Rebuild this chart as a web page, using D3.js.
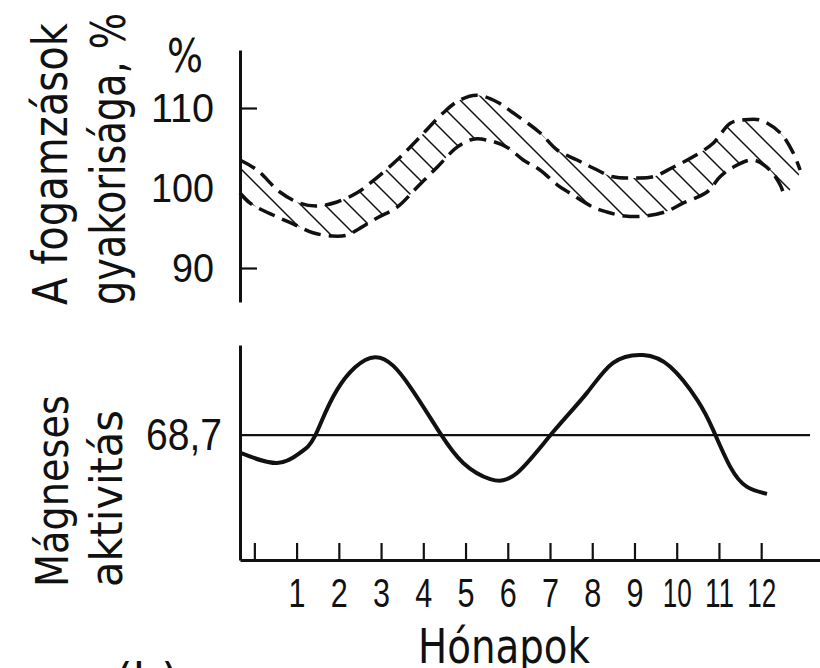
<!DOCTYPE html>
<html>
<head>
<meta charset="utf-8">
<script src="https://cdn.jsdelivr.net/npm/d3@7"></script>
<style>
  body { margin: 0; background: #fff; }
  svg { display: block; font-family: "DejaVu Sans", sans-serif; }
  text { fill: #111; }
</style>
</head>
<body>
<svg id="chart" width="820" height="668"></svg>
<script>
// Months on the shared horizontal axis
const months = d3.range(0, 13);

// Upper and lower edge of the conception frequency band (%)
const upperMonth = [-0.34, 0.063, 0.604, 1.078, 1.484, 1.958, 2.432, 2.741, 3.379, 3.853, 4.472, 4.868, 5.274, 5.748, 6.125, 6.763, 7.169, 7.643, 8.02, 8.494, 8.967, 9.441, 9.915, 10.388, 10.862, 11.268, 11.568, 11.974, 12.448, 12.757, 12.922];
const upperValue = [103.5, 102.25, 99.5, 98.1, 97.75, 98.25, 99.4, 100.6, 103.5, 106, 109.4, 111, 111.6, 110.75, 109.4, 106.9, 104.75, 103.5, 102.5, 101.4, 101.25, 101.4, 102.6, 103.9, 105.6, 108.1, 108.5, 108.5, 106.9, 104.4, 102.25];
const lowerMonth = [-0.34, -0.101, 0.537, 0.962, 1.387, 1.842, 2.19, 2.432, 2.905, 3.379, 3.853, 4.327, 4.8, 5.177, 5.583, 5.98, 6.367, 6.763, 7.169, 7.43, 8.02, 8.348, 8.774, 9.248, 9.721, 10.147, 10.717, 11.026, 11.336, 11.81, 12.206, 12.448, 12.544];
const lowerValue = [99.4, 98.1, 96.4, 95.4, 94.4, 94.0, 94.1, 94.75, 96.25, 97.6, 100.1, 102.6, 105.1, 106.1, 105.9, 105.1, 103.5, 102.25, 100.4, 99.5, 97.6, 97.0, 96.5, 96.5, 97.0, 98.1, 99.5, 101.4, 102.6, 103.5, 102.25, 100.4, 99.1];
const freqTicks = [90, 100, 110];

// Magnetic activity curve and its mean
const magMonth = [-0.33, 0.537, 1.078, 1.436, 1.958, 2.857, 3.688, 4.394, 4.945, 5.583, 6.221, 7.072, 7.875, 8.494, 9.2, 9.847, 10.485, 10.862, 11.268, 11.665, 12.138];
const magValue = [64.6, 62.3, 64.6, 68.5, 79.1, 86.6, 79.8, 69.2, 62.3, 58.6, 60.0, 69.4, 78.4, 85.3, 87.1, 84.4, 76.8, 69.9, 61.4, 56.8, 55.2];
const magMean = 68.7;

const svg = d3.select("#chart");

const x = d3.scaleLinear().domain([-0.34, 13.44]).range([240, 822]);
const yTop = d3.scaleLinear().domain([85.75, 117.25]).range([302, 50]);
const yMag = d3.scaleLinear().domain([40, 89.4]).range([560, 345]);

const huFormat = d3.formatLocale({ decimal: ",", thousands: " ", grouping: [3], currency: ["", " Ft"] }).format(".1f");

// hatch pattern for the band
const hatch = 24;
svg.append("defs").append("pattern")
    .attr("id", "hatch")
    .attr("patternUnits", "userSpaceOnUse")
    .attr("width", hatch)
    .attr("height", hatch)
  .append("path")
    .attr("d", `M-2,-2 L${hatch + 2},${hatch + 2} M${hatch - 2},-2 L${hatch + 2},2 M-2,${hatch - 2} L2,${hatch + 2}`)
    .attr("stroke", "#111")
    .attr("stroke-width", 1.5);

/*
** TOP PANEL
*/
const upper = upperMonth.map((m, i) => [m, upperValue[i]]);
const lower = lowerMonth.map((m, i) => [m, lowerValue[i]]);

const edge = d3.line()
  .x(d => x(d[0]))
  .y(d => yTop(d[1]))
  .curve(d3.curveCatmullRom.alpha(0.5));

svg.append("path")
  .attr("d", edge(upper.concat(lower.slice().reverse())) + "Z")
  .attr("fill", "url(#hatch)")
  .attr("stroke", "none");

[upper, lower].forEach(pts => {
  svg.append("path")
    .attr("d", edge(pts))
    .attr("fill", "none")
    .attr("stroke", "#111")
    .attr("stroke-width", 3.5)
    .attr("stroke-dasharray", "17,8");
});

const topAxis = svg.append("g")
  .attr("transform", `translate(${x(-0.34)},0)`)
  .call(d3.axisLeft(yTop).tickValues(freqTicks).tickSizeInner(-17).tickSizeOuter(0).tickPadding(26));
topAxis.select(".domain").attr("stroke", "#111").attr("stroke-width", 3);
topAxis.selectAll(".tick line").attr("stroke", "#111").attr("stroke-width", 2.2)
  .filter(d => d === 100).remove();
topAxis.selectAll(".tick text")
  .attr("font-size", 41)
  .attr("fill", "#111")
  .attr("textLength", d => String(d).length * 21)
  .attr("lengthAdjust", "spacingAndGlyphs");

svg.append("text")
  .attr("x", 185).attr("y", 72)
  .attr("text-anchor", "middle")
  .attr("font-size", 46)
  .attr("textLength", 36)
  .attr("lengthAdjust", "spacingAndGlyphs")
  .text("%");

// Rotated two-line titles, squeezed to the narrow lettering of the original
function sideTitle(lines, baseX, startY, size, lengths) {
  lines.forEach((t, i) => {
    let label = svg.append("text")
      .attr("font-size", size)
      .text(t);
    let natural = label.node().getComputedTextLength();
    let squeeze = lengths[i] / natural;
    label.attr("transform", `translate(${baseX[i]},${startY}) rotate(-90) scale(${squeeze},1)`);
  });
}
sideTitle(["A fogamzások", "gyakorisága, %"], [67, 125], 305, 48, [282, 292]);

/*
** BOTTOM PANEL
*/
svg.append("line")
  .attr("x1", x(-0.34)).attr("x2", 810)
  .attr("y1", yMag(magMean)).attr("y2", yMag(magMean))
  .attr("stroke", "#111").attr("stroke-width", 2.3);

svg.append("path")
  .datum(magMonth.map((m, i) => [m, magValue[i]]))
  .attr("d", d3.line().x(d => x(d[0])).y(d => yMag(d[1])).curve(d3.curveNatural))
  .attr("fill", "none")
  .attr("stroke", "#111")
  .attr("stroke-width", 4);

const magAxis = svg.append("g")
  .attr("transform", `translate(${x(-0.34)},0)`)
  .call(d3.axisLeft(yMag).tickValues([magMean]).tickFormat(huFormat).tickSize(0).tickPadding(18));
magAxis.select(".domain").attr("stroke", "#111").attr("stroke-width", 3);
magAxis.selectAll(".tick text")
  .attr("font-size", 44)
  .attr("fill", "#111")
  .attr("textLength", 76)
  .attr("lengthAdjust", "spacingAndGlyphs");

const monthAxis = svg.append("g")
  .attr("transform", `translate(0,${yMag(40)})`)
  .call(d3.axisBottom(x).tickValues(months).tickFormat(d => d === 0 ? "" : d).tickSizeInner(-17).tickSizeOuter(0).tickPadding(18));
monthAxis.select(".domain").attr("stroke", "#111").attr("stroke-width", 3);
monthAxis.selectAll(".tick line").attr("stroke", "#111").attr("stroke-width", 2.2);
monthAxis.selectAll(".tick text")
  .attr("font-size", 41)
  .attr("fill", "#111")
  .attr("textLength", d => d >= 10 ? 29 : 17)
  .attr("lengthAdjust", "spacingAndGlyphs");

sideTitle(["Mágneses", "aktivitás"], [68, 122], 587, 45, [192, 177]);

svg.append("text")
  .attr("x", 418).attr("y", 663)
  .attr("font-size", 48)
  .attr("textLength", 172)
  .attr("lengthAdjust", "spacingAndGlyphs")
  .text("Hónapok");

svg.append("text")
  .attr("x", 115).attr("y", 698)
  .attr("font-size", 48)
  .attr("textLength", 64)
  .attr("lengthAdjust", "spacingAndGlyphs")
  .text("(b)");
</script>
</body>
</html>
